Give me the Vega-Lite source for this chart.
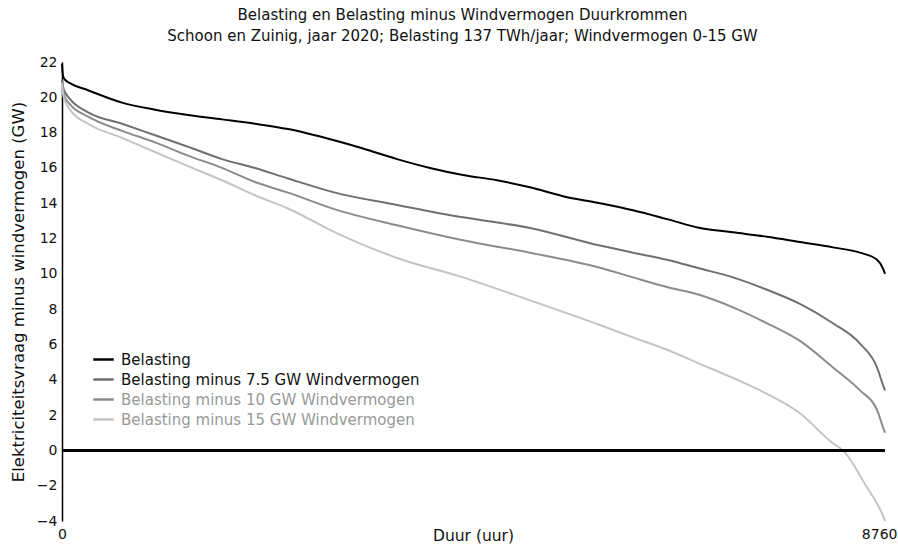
{
  "$schema": "https://vega.github.io/schema/vega-lite/v6.json",
  "autosize": "none",
  "width": 823,
  "height": 459,
  "padding": {"left": 62, "top": 62, "right": 13, "bottom": 24},
  "background": "white",
  "config": {
    "view": {"stroke": null},
    "font": "DejaVu Sans"
  },
  "title": {
    "text": ["Belasting en Belasting minus Windvermogen Duurkrommen", "Schoon en Zuinig, jaar 2020; Belasting 137 TWh/jaar; Windvermogen 0-15 GW"],
    "fontSize": 15,
    "fontWeight": "normal",
    "color": "#111",
    "lineHeight": 21,
    "anchor": "middle",
    "dx": -11,
    "offset": 11
  },
  "data": {
    "values": [
      {"h": 0, "v": 21.9, "s": "Belasting"},
      {"h": 11, "v": 21.2, "s": "Belasting"},
      {"h": 32, "v": 21.0, "s": "Belasting"},
      {"h": 85, "v": 20.8, "s": "Belasting"},
      {"h": 277, "v": 20.4, "s": "Belasting"},
      {"h": 639, "v": 19.7, "s": "Belasting"},
      {"h": 990, "v": 19.3, "s": "Belasting"},
      {"h": 1341, "v": 19.0, "s": "Belasting"},
      {"h": 1703, "v": 18.75, "s": "Belasting"},
      {"h": 2054, "v": 18.5, "s": "Belasting"},
      {"h": 2406, "v": 18.2, "s": "Belasting"},
      {"h": 2906, "v": 17.55, "s": "Belasting"},
      {"h": 3204, "v": 17.1, "s": "Belasting"},
      {"h": 3566, "v": 16.5, "s": "Belasting"},
      {"h": 3917, "v": 16.0, "s": "Belasting"},
      {"h": 4268, "v": 15.6, "s": "Belasting"},
      {"h": 4630, "v": 15.3, "s": "Belasting"},
      {"h": 4981, "v": 14.9, "s": "Belasting"},
      {"h": 5333, "v": 14.4, "s": "Belasting"},
      {"h": 5726, "v": 14.0, "s": "Belasting"},
      {"h": 6078, "v": 13.6, "s": "Belasting"},
      {"h": 6440, "v": 13.1, "s": "Belasting"},
      {"h": 6791, "v": 12.6, "s": "Belasting"},
      {"h": 7142, "v": 12.35, "s": "Belasting"},
      {"h": 7504, "v": 12.1, "s": "Belasting"},
      {"h": 7855, "v": 11.8, "s": "Belasting"},
      {"h": 8206, "v": 11.5, "s": "Belasting"},
      {"h": 8494, "v": 11.2, "s": "Belasting"},
      {"h": 8675, "v": 10.8, "s": "Belasting"},
      {"h": 8739, "v": 10.3, "s": "Belasting"},
      {"h": 8760, "v": 10.0, "s": "Belasting"},

      {"h": 0, "v": 21.0, "s": "Belasting minus 7.5 GW Windvermogen"},
      {"h": 11, "v": 20.6, "s": "Belasting minus 7.5 GW Windvermogen"},
      {"h": 32, "v": 20.3, "s": "Belasting minus 7.5 GW Windvermogen"},
      {"h": 85, "v": 19.9, "s": "Belasting minus 7.5 GW Windvermogen"},
      {"h": 277, "v": 19.15, "s": "Belasting minus 7.5 GW Windvermogen"},
      {"h": 639, "v": 18.5, "s": "Belasting minus 7.5 GW Windvermogen"},
      {"h": 990, "v": 17.85, "s": "Belasting minus 7.5 GW Windvermogen"},
      {"h": 1341, "v": 17.2, "s": "Belasting minus 7.5 GW Windvermogen"},
      {"h": 1703, "v": 16.5, "s": "Belasting minus 7.5 GW Windvermogen"},
      {"h": 2054, "v": 16.0, "s": "Belasting minus 7.5 GW Windvermogen"},
      {"h": 2406, "v": 15.4, "s": "Belasting minus 7.5 GW Windvermogen"},
      {"h": 2906, "v": 14.6, "s": "Belasting minus 7.5 GW Windvermogen"},
      {"h": 3566, "v": 13.9, "s": "Belasting minus 7.5 GW Windvermogen"},
      {"h": 4268, "v": 13.2, "s": "Belasting minus 7.5 GW Windvermogen"},
      {"h": 4981, "v": 12.6, "s": "Belasting minus 7.5 GW Windvermogen"},
      {"h": 5726, "v": 11.6, "s": "Belasting minus 7.5 GW Windvermogen"},
      {"h": 6078, "v": 11.2, "s": "Belasting minus 7.5 GW Windvermogen"},
      {"h": 6440, "v": 10.8, "s": "Belasting minus 7.5 GW Windvermogen"},
      {"h": 6791, "v": 10.3, "s": "Belasting minus 7.5 GW Windvermogen"},
      {"h": 7142, "v": 9.8, "s": "Belasting minus 7.5 GW Windvermogen"},
      {"h": 7504, "v": 9.1, "s": "Belasting minus 7.5 GW Windvermogen"},
      {"h": 7855, "v": 8.3, "s": "Belasting minus 7.5 GW Windvermogen"},
      {"h": 8206, "v": 7.2, "s": "Belasting minus 7.5 GW Windvermogen"},
      {"h": 8494, "v": 6.05, "s": "Belasting minus 7.5 GW Windvermogen"},
      {"h": 8675, "v": 4.7, "s": "Belasting minus 7.5 GW Windvermogen"},
      {"h": 8739, "v": 3.7, "s": "Belasting minus 7.5 GW Windvermogen"},
      {"h": 8760, "v": 3.4, "s": "Belasting minus 7.5 GW Windvermogen"},

      {"h": 0, "v": 20.9, "s": "Belasting minus 10 GW Windvermogen"},
      {"h": 11, "v": 20.4, "s": "Belasting minus 10 GW Windvermogen"},
      {"h": 32, "v": 20.0, "s": "Belasting minus 10 GW Windvermogen"},
      {"h": 85, "v": 19.6, "s": "Belasting minus 10 GW Windvermogen"},
      {"h": 277, "v": 18.9, "s": "Belasting minus 10 GW Windvermogen"},
      {"h": 639, "v": 18.1, "s": "Belasting minus 10 GW Windvermogen"},
      {"h": 990, "v": 17.45, "s": "Belasting minus 10 GW Windvermogen"},
      {"h": 1341, "v": 16.7, "s": "Belasting minus 10 GW Windvermogen"},
      {"h": 1703, "v": 16.0, "s": "Belasting minus 10 GW Windvermogen"},
      {"h": 2054, "v": 15.2, "s": "Belasting minus 10 GW Windvermogen"},
      {"h": 2406, "v": 14.6, "s": "Belasting minus 10 GW Windvermogen"},
      {"h": 2906, "v": 13.65, "s": "Belasting minus 10 GW Windvermogen"},
      {"h": 3566, "v": 12.75, "s": "Belasting minus 10 GW Windvermogen"},
      {"h": 4268, "v": 11.9, "s": "Belasting minus 10 GW Windvermogen"},
      {"h": 4981, "v": 11.2, "s": "Belasting minus 10 GW Windvermogen"},
      {"h": 5726, "v": 10.35, "s": "Belasting minus 10 GW Windvermogen"},
      {"h": 6078, "v": 9.8, "s": "Belasting minus 10 GW Windvermogen"},
      {"h": 6440, "v": 9.25, "s": "Belasting minus 10 GW Windvermogen"},
      {"h": 6791, "v": 8.8, "s": "Belasting minus 10 GW Windvermogen"},
      {"h": 7142, "v": 8.1, "s": "Belasting minus 10 GW Windvermogen"},
      {"h": 7504, "v": 7.2, "s": "Belasting minus 10 GW Windvermogen"},
      {"h": 7855, "v": 6.2, "s": "Belasting minus 10 GW Windvermogen"},
      {"h": 8206, "v": 4.7, "s": "Belasting minus 10 GW Windvermogen"},
      {"h": 8494, "v": 3.4, "s": "Belasting minus 10 GW Windvermogen"},
      {"h": 8675, "v": 2.3, "s": "Belasting minus 10 GW Windvermogen"},
      {"h": 8739, "v": 1.3, "s": "Belasting minus 10 GW Windvermogen"},
      {"h": 8760, "v": 1.0, "s": "Belasting minus 10 GW Windvermogen"},

      {"h": 0, "v": 20.8, "s": "Belasting minus 15 GW Windvermogen"},
      {"h": 11, "v": 20.2, "s": "Belasting minus 15 GW Windvermogen"},
      {"h": 32, "v": 19.8, "s": "Belasting minus 15 GW Windvermogen"},
      {"h": 85, "v": 19.3, "s": "Belasting minus 15 GW Windvermogen"},
      {"h": 277, "v": 18.5, "s": "Belasting minus 15 GW Windvermogen"},
      {"h": 639, "v": 17.7, "s": "Belasting minus 15 GW Windvermogen"},
      {"h": 990, "v": 16.9, "s": "Belasting minus 15 GW Windvermogen"},
      {"h": 1341, "v": 16.1, "s": "Belasting minus 15 GW Windvermogen"},
      {"h": 1703, "v": 15.3, "s": "Belasting minus 15 GW Windvermogen"},
      {"h": 2054, "v": 14.45, "s": "Belasting minus 15 GW Windvermogen"},
      {"h": 2406, "v": 13.7, "s": "Belasting minus 15 GW Windvermogen"},
      {"h": 2906, "v": 12.35, "s": "Belasting minus 15 GW Windvermogen"},
      {"h": 3566, "v": 10.9, "s": "Belasting minus 15 GW Windvermogen"},
      {"h": 4268, "v": 9.8, "s": "Belasting minus 15 GW Windvermogen"},
      {"h": 4981, "v": 8.5, "s": "Belasting minus 15 GW Windvermogen"},
      {"h": 5726, "v": 7.1, "s": "Belasting minus 15 GW Windvermogen"},
      {"h": 6078, "v": 6.4, "s": "Belasting minus 15 GW Windvermogen"},
      {"h": 6440, "v": 5.7, "s": "Belasting minus 15 GW Windvermogen"},
      {"h": 6791, "v": 4.9, "s": "Belasting minus 15 GW Windvermogen"},
      {"h": 7142, "v": 4.1, "s": "Belasting minus 15 GW Windvermogen"},
      {"h": 7504, "v": 3.2, "s": "Belasting minus 15 GW Windvermogen"},
      {"h": 7855, "v": 2.1, "s": "Belasting minus 15 GW Windvermogen"},
      {"h": 8206, "v": 0.4, "s": "Belasting minus 15 GW Windvermogen"},
      {"h": 8313, "v": 0.0, "s": "Belasting minus 15 GW Windvermogen"},
      {"h": 8569, "v": -2.1, "s": "Belasting minus 15 GW Windvermogen"},
      {"h": 8675, "v": -3.0, "s": "Belasting minus 15 GW Windvermogen"},
      {"h": 8739, "v": -3.7, "s": "Belasting minus 15 GW Windvermogen"},
      {"h": 8760, "v": -4.0, "s": "Belasting minus 15 GW Windvermogen"}
    ]
  },
  "layer": [
    {
      "mark": {"type": "line", "strokeWidth": 2, "interpolate": "monotone"},
      "encoding": {
        "x": {
          "field": "h", "type": "quantitative",
          "scale": {"domain": [0, 8760], "nice": false},
          "axis": {
            "title": "Duur (uur)", "values": [0, 8760], "format": "d", "domain": false, "ticks": false, "grid": false,
            "labelFontSize": 14, "labelColor": "#111", "labelPadding": 6,
            "labelFlush": false, "labelOverlap": false,
            "labelAlign": {"condition": {"test": "datum.value == 8760", "value": "right"}, "value": "center"},
            "labelOffset": {"condition": {"test": "datum.value == 8760", "value": 12}, "value": 0},
            "titleFontSize": 15.5, "titleFontWeight": "normal", "titleColor": "#111",
            "titleY": 19, "titleBaseline": "alphabetic", "titleX": 411
          }
        },
        "y": {
          "field": "v", "type": "quantitative",
          "scale": {"domain": [-4, 22], "nice": false},
          "axis": {
            "title": "Elektriciteitsvraag minus windvermogen (GW)",
            "values": [-4, -2, 0, 2, 4, 6, 8, 10, 12, 14, 16, 18, 20, 22],
            "domainColor": "#000", "domainWidth": 1.5, "ticks": false, "grid": false,
            "labelFontSize": 14, "labelColor": "#111", "labelPadding": 5,
            "labelFlush": false, "labelOverlap": false,
            "titleFontSize": 16.5, "titleFontWeight": "normal", "titleColor": "#111",
            "titlePadding": 10
          }
        },
        "color": {
          "field": "s", "type": "nominal",
          "scale": {
            "domain": ["Belasting", "Belasting minus 7.5 GW Windvermogen", "Belasting minus 10 GW Windvermogen", "Belasting minus 15 GW Windvermogen"],
            "range": ["#000000", "#707070", "#8c8c8c", "#c4c4c4"]
          },
          "legend": {
            "title": null,
            "orient": "none",
            "legendX": 30,
            "legendY": 286,
            "symbolType": "stroke",
            "symbolSize": 420,
            "symbolStrokeWidth": 2.5,
            "labelFontSize": 15,
            "labelLimit": 0,
            "rowPadding": 0,
            "labelOffset": 6,
            "encode": {
              "labels": {
                "update": {
                  "fill": {"signal": "indexof(['Belasting minus 10 GW Windvermogen','Belasting minus 15 GW Windvermogen'], datum.value) >= 0 ? '#999999' : '#111111'"}
                }
              }
            }
          }
        },
        "order": {"field": "h", "type": "quantitative"}
      }
    },
    {
      "mark": {"type": "rule", "color": "#000", "strokeWidth": 2},
      "encoding": {
        "y": {
          "datum": 0, "type": "quantitative",
          "axis": {
            "title": "Elektriciteitsvraag minus windvermogen (GW)",
            "values": [-4, -2, 0, 2, 4, 6, 8, 10, 12, 14, 16, 18, 20, 22],
            "domainColor": "#000", "domainWidth": 1.5, "ticks": false, "grid": false,
            "labelFontSize": 14, "labelColor": "#111", "labelPadding": 5,
            "labelFlush": false, "labelOverlap": false,
            "titleFontSize": 16.5, "titleFontWeight": "normal", "titleColor": "#111",
            "titlePadding": 10
          }
        }
      }
    }
  ]
}
